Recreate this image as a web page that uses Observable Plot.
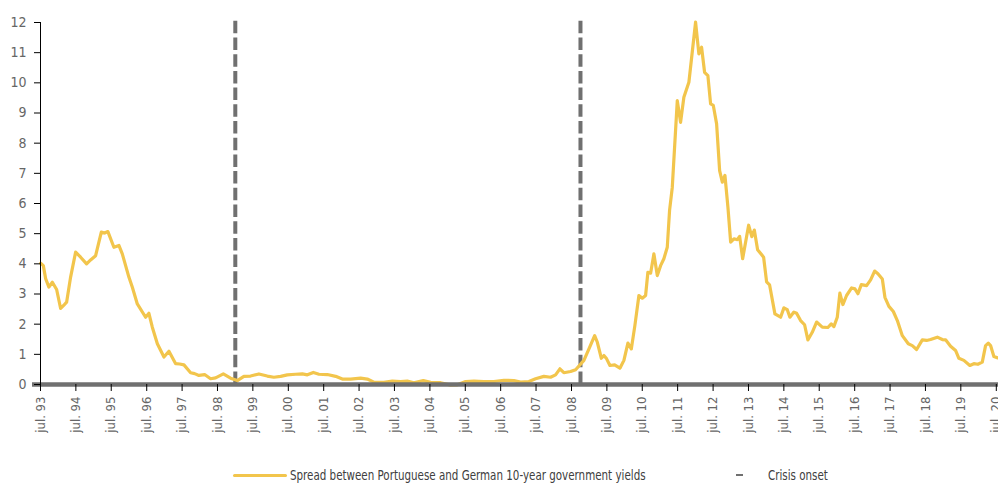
<!DOCTYPE html>
<html>
<head>
<meta charset="utf-8">
<script src="https://cdn.jsdelivr.net/npm/d3@7"></script>
<script src="https://cdn.jsdelivr.net/npm/@observablehq/plot@0.6"></script>
<style>
  html, body { margin: 0; padding: 0; background: #fff; overflow: hidden; }
  body { width: 998px; height: 483px; font-family: "DejaVu Sans Condensed", "Liberation Sans", sans-serif; }
  #chart svg { display: block; max-width: none !important; }
  #legend { position: relative; width: 998px; height: 28px; font-size: 13.5px; color: #404040; }
  #legend .item { position: absolute; top: 11px; line-height: 18px; white-space: nowrap; transform: scaleX(0.85); transform-origin: 0 50%; }
  #legend .swatch { position: absolute; top: 19px; height: 3px; background: #F2C54C; border-radius: 2px; }
  #legend .dash { position: absolute; top: 19px; height: 2px; background: #707070; }
</style>
</head>
<body>
<div id="chart"></div>
<div id="legend"></div>
<script>
const dates = [
  1993.500, 1993.576, 1993.641, 1993.734, 1993.831, 1993.952, 1994.065, 1994.150, 1994.234, 1994.347,
  1994.489, 1994.630, 1994.799, 1994.912, 1995.054, 1995.215, 1995.308, 1995.401, 1995.571, 1995.712,
  1995.808, 1995.994, 1996.090, 1996.232, 1996.466, 1996.559, 1996.655, 1996.797, 1996.983, 1997.124,
  1997.314, 1997.427, 1997.548, 1997.737, 1997.850, 1997.972, 1998.133, 1998.302, 1998.444, 1998.661,
  1998.867, 1999.057, 1999.243, 1999.432, 1999.667, 1999.904, 2000.090, 2000.280, 2000.469, 2000.703,
  2000.893, 2001.034, 2001.203, 2001.362, 2001.599, 2001.833, 2002.023, 2002.257, 2002.540, 2002.729,
  2002.915, 2003.198, 2003.435, 2003.669, 2003.859, 2004.045, 2004.311, 2004.517, 2004.799, 2005.082,
  2005.271, 2005.506, 2005.740, 2006.023, 2006.305, 2006.588, 2006.870, 2007.059, 2007.294, 2007.483,
  2007.718, 2007.907, 2008.048, 2008.170, 2008.282, 2008.472, 2008.613, 2008.847, 2008.989, 2009.150,
  2009.226, 2009.339, 2009.412, 2009.489, 2009.582, 2009.715, 2009.864, 2009.977, 2010.090, 2010.186,
  2010.288, 2010.401, 2010.497, 2010.590, 2010.655, 2010.732, 2010.825, 2010.921, 2011.014, 2011.107,
  2011.203, 2011.268, 2011.345, 2011.486, 2011.579, 2011.672, 2011.814, 2012.003, 2012.096, 2012.172,
  2012.257, 2012.350, 2012.427, 2012.503, 2012.596, 2012.681, 2012.757, 2012.831, 2012.915, 2012.992,
  2013.085, 2013.181, 2013.246, 2013.331, 2013.500, 2013.590, 2013.661, 2013.754, 2013.924, 2014.008,
  2014.093, 2014.243, 2014.404, 2014.497, 2014.593, 2014.667, 2014.780, 2014.856, 2014.969, 2015.082,
  2015.175, 2015.299, 2015.421, 2015.582, 2015.740, 2015.836, 2015.910, 2016.006, 2016.079, 2016.164,
  2016.268, 2016.410, 2016.503, 2016.588, 2016.684, 2016.833, 2016.946, 2017.059, 2017.153, 2017.277,
  2017.350, 2017.463, 2017.588, 2017.701, 2017.842, 2018.011, 2018.124, 2018.246, 2018.407, 2018.528,
  2018.641, 2018.831, 2018.972, 2019.065, 2019.206, 2019.347, 2019.441, 2019.582, 2019.751, 2019.864,
  2019.977, 2020.102, 2020.195, 2020.271, 2020.336, 2020.429, 2020.542
];
// Spread between Portuguese and German 10-year government yields (p.p.)
const spread = [
  4.02, 3.94, 3.51, 3.23, 3.39, 3.15, 2.52, 2.62, 2.73, 3.56,
  4.39, 4.22, 4.00, 4.13, 4.27, 5.05, 5.02, 5.07, 4.55, 4.61,
  4.33, 3.56, 3.23, 2.67, 2.23, 2.36, 1.90, 1.35, 0.91, 1.10,
  0.69, 0.68, 0.65, 0.39, 0.36, 0.30, 0.33, 0.19, 0.22, 0.35,
  0.21, 0.13, 0.27, 0.28, 0.35, 0.28, 0.24, 0.27, 0.32, 0.34,
  0.35, 0.32, 0.40, 0.34, 0.33, 0.27, 0.18, 0.18, 0.21, 0.18,
  0.08, 0.07, 0.11, 0.10, 0.11, 0.06, 0.13, 0.07, 0.06, -0.02,
  -0.01, 0.10, 0.11, 0.10, 0.10, 0.14, 0.13, 0.08, 0.10, 0.19,
  0.27, 0.24, 0.32, 0.52, 0.39, 0.43, 0.49, 0.80, 1.18, 1.62,
  1.40, 0.87, 0.96, 0.85, 0.63, 0.65, 0.54, 0.80, 1.37, 1.18,
  1.96, 2.95, 2.86, 2.95, 3.72, 3.69, 4.33, 3.61, 3.94, 4.17,
  4.55, 5.77, 6.54, 9.41, 8.69, 9.52, 10.02, 12.01, 10.96, 11.18,
  10.35, 10.24, 9.30, 9.25, 8.64, 7.09, 6.71, 6.93, 5.88, 4.72,
  4.83, 4.80, 4.91, 4.17, 5.28, 4.90, 5.12, 4.47, 4.22, 3.40,
  3.30, 2.34, 2.23, 2.54, 2.48, 2.23, 2.40, 2.36, 2.12, 1.98,
  1.48, 1.73, 2.07, 1.90, 1.89, 2.01, 1.92, 2.23, 3.03, 2.65,
  2.95, 3.20, 3.17, 3.01, 3.31, 3.28, 3.47, 3.76, 3.67, 3.50,
  2.89, 2.59, 2.42, 2.12, 1.62, 1.35, 1.29, 1.16, 1.48, 1.46,
  1.49, 1.57, 1.49, 1.48, 1.27, 1.13, 0.87, 0.80, 0.63, 0.69,
  0.67, 0.74, 1.29, 1.37, 1.29, 0.93, 0.88
];
// Crisis onsets (decimal years)
const crisisDates = [1999.0, 2008.75];
// Tick years (July of each year) and y ticks
const tickYears = d3.range(1993, 2021);
const yTicks = d3.range(0, 13);
const seriesLabel = "Spread between Portuguese and German 10-year government yields";
const crisisLabel = "Crisis onset";

function toDate(t) {
  const y = Math.floor(t);
  const a = Date.UTC(y, 0, 1), b = Date.UTC(y + 1, 0, 1);
  return new Date(a + (t - y) * (b - a));
}

const data = dates.map((d, i) => ({date: toDate(d), value: spread[i]}));
const crises = crisisDates.map(toDate);
const xTicks = tickYears.map(y => new Date(Date.UTC(y, 6, 1)));

const fontFam = '"DejaVu Sans Condensed", "Liberation Sans", sans-serif';
const yellow = "#F2C54C";
const grey = "#707070";

const chart = Plot.plot({
  width: 1012,
  height: 455,
  marginLeft: 40,
  marginRight: 0,
  marginTop: 22,
  marginBottom: 71,
  style: {fontFamily: fontFam, fontSize: "13px", color: "#666", background: "#fff", overflow: "visible", maxWidth: "none"},
  x: {type: "utc", domain: [new Date(Date.UTC(1993, 6, 1)), toDate(2020.954)]},
  y: {domain: [0, 12]},
  marks: [
    Plot.ruleX(crises, {x: d => d, y1: 0, y2: 12.05, stroke: grey, strokeWidth: 4, strokeDasharray: "12.5,4.2"}),
    Plot.lineY(data, {x: "date", y: "value", stroke: yellow, strokeWidth: 3.2, curve: "linear", strokeLinejoin: "round"}),
    Plot.ruleY([0], {stroke: grey, strokeWidth: 4.5, insetLeft: -8}),
    Plot.ruleX([xTicks[0]], {y1: 0, y2: 12, stroke: "#000", strokeWidth: 1}),
    Plot.axisY({ticks: yTicks, tickSize: 6, tickPadding: 8, stroke: "#000", fill: "#666", fontSize: 14, label: null}),
    Plot.axisX({ticks: xTicks, tickFormat: d3.utcFormat("jul. %y"), tickSize: 7, tickPadding: 5, tickRotate: -90, stroke: "#000", fill: "#666", fontSize: 13, label: null})
  ]
});
document.getElementById("chart").appendChild(chart);

const legend = document.getElementById("legend");
legend.innerHTML = `
  <div class="swatch" style="left:233px;width:54px"></div>
  <div class="item" style="left:290px">${seriesLabel}</div>
  <div class="dash" style="left:736px;width:7px"></div>
  <div class="item" style="left:768px">${crisisLabel}</div>
`;
</script>
</body>
</html>
